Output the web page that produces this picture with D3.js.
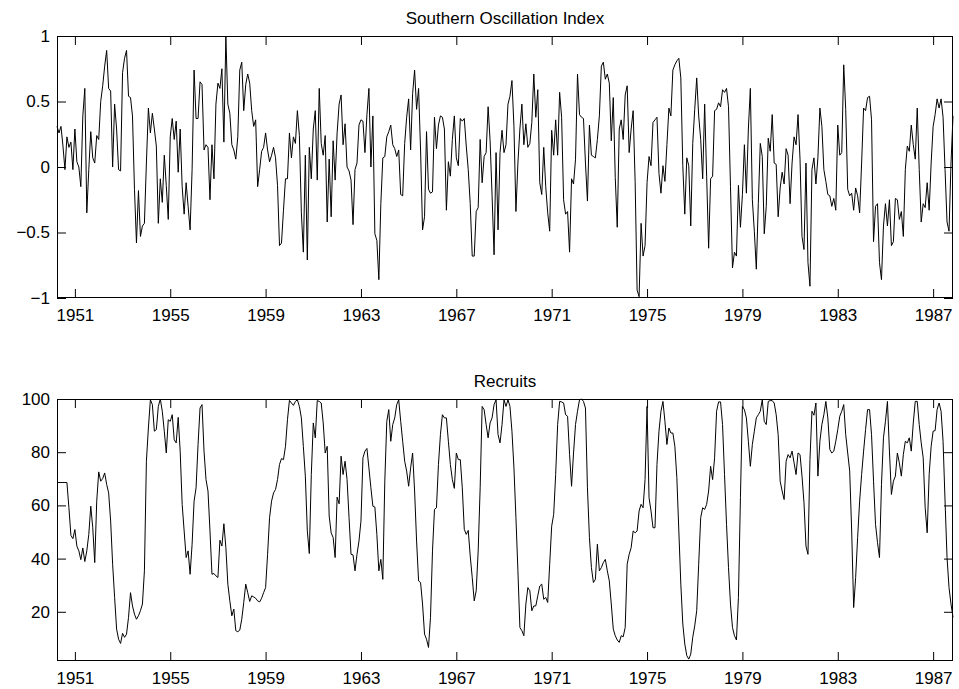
<!DOCTYPE html>
<html lang="en">
    <head>
        <meta charset="UTF-8" />
        <title>SOI and Recruits</title>
        <script src="https://d3js.org/d3.v7.min.js"></script>
        <style>
            body {
                margin: 0;
                background: #fff;
            }
            text {
                font-family: "Liberation Sans", Arial, Helvetica, sans-serif;
                font-size: 17px;
                fill: #000;
            }
            .frame {
                fill: none;
                stroke: #000;
                stroke-width: 1px;
            }
            .series {
                fill: none;
                stroke: #000;
                stroke-width: 1px;
            }
        </style>
    </head>

    <body>
        <div id="chart"></div>

        <script>
            const width = 959,
                height = 689;

            // monthly series, first value at 1950.25
            const startYear = 1950.25;
            const yearTicks = [1951, 1955, 1959, 1963, 1967, 1971, 1975, 1979, 1983, 1987];
            const soiTicks = [-1, -0.5, 0, 0.5, 1];
            const recTicks = [20, 40, 60, 80, 100];

            const soi = [
                0.31, 0.26, 0.31, 0.16, -0.02, 0.23, 0.15, 0.19, -0.02, 0.29,
                0.04, 0.0, -0.15, 0.39, 0.60, -0.35, -0.02, 0.27, 0.07, 0.03,
                0.24, 0.21, 0.50, 0.62, 0.77, 0.89, 0.60, 0.58, 0.0, 0.48,
                0.29, -0.02, -0.03, 0.72, 0.83, 0.89, 0.54, 0.53, 0.39, -0.17,
                -0.58, -0.18, -0.53, -0.45, -0.43, 0.03, 0.45, 0.26, 0.41, 0.29,
                0.16, -0.43, -0.09, -0.27, 0.09, -0.14, -0.40, 0.23, 0.37, 0.21,
                0.35, -0.04, 0.29, -0.15, -0.36, -0.12, -0.30, -0.48, -0.02, 0.74,
                0.37, 0.37, 0.65, 0.63, 0.13, 0.17,
                0.15, -0.25, 0.17, -0.09, 0.48, 0.64, 0.60, 0.75, 0.19, 1.0,
                0.48, 0.41, 0.17, 0.13, 0.06, 0.23, 0.74, 0.80, 0.43, 0.63,
                0.71, 0.64, 0.43, 0.31, 0.36, -0.15, -0.02, 0.12, 0.15, 0.26,
                0.13, 0.04, 0.09, 0.15, 0.07, -0.14, -0.60, -0.58, -0.33, -0.09,
                -0.09, 0.26, 0.07, 0.23, 0.18, 0.43, 0.24, -0.35, -0.65, 0.09,
                -0.71, 0.15, -0.09, 0.29, 0.43, -0.10, 0.60, 0.18, 0.09, 0.24,
                -0.42, 0.06, -0.38, 0.20, -0.10, 0.26, 0.48, 0.55, 0.17, 0.33,
                0.0, -0.03, -0.10, -0.44,
                -0.02, 0.03, 0.32, 0.36, 0.35, 0.11, 0.40, 0.60, 0.0, 0.39,
                -0.51, -0.56, -0.86, -0.28, 0.07, 0.08, 0.23, 0.27, 0.32, 0.17,
                0.14, 0.08, 0.13, -0.21, -0.22, 0.18, 0.38, 0.52, 0.13, 0.56,
                0.74, 0.44, 0.60, 0.13, -0.48, -0.38, 0.27, -0.17, -0.20, -0.19,
                0.38, 0.14, 0.32, 0.39, 0.38, 0.29, -0.33, 0.04, -0.07, 0.21,
                0.39, 0.07, 0.01, 0.37, 0.35, 0.37, 0.16, -0.02, -0.28, -0.68,
                -0.68, -0.34, -0.31, 0.21, -0.12, 0.08, 0.11, 0.46, 0.20, -0.22,
                -0.67, 0.11,
                -0.48, 0.11, 0.28, 0.11, 0.17, 0.48, 0.54, 0.66, 0.31, -0.34,
                0.03, 0.29, 0.48, 0.17, 0.33, 0.15, 0.18, 0.34, 0.71, 0.38,
                0.59, -0.12, -0.21, 0.15, -0.15, -0.35, -0.49, 0.28, 0.09, 0.36,
                0.09, 0.57, 0.38, -0.25, -0.36, -0.34, -0.65, -0.09, -0.13, 0.06,
                0.71, 0.40, 0.38, 0.37, 0.03, -0.26, 0.32, 0.09, 0.08, 0.07,
                0.21, 0.39, 0.77, 0.80, 0.67, 0.71, 0.64, 0.20, 0.53, -0.08,
                -0.46, 0.29, 0.36, 0.21, 0.55, 0.62, 0.11, 0.29, 0.43, -0.11,
                -0.94, -0.99, -0.43, -0.68, -0.60,
                -0.12, 0.08, 0.01, 0.34, 0.36, 0.38, -0.05, -0.20, 0.01, -0.11,
                0.17, 0.45, 0.39, 0.74, 0.78, 0.81, 0.83, 0.68, 0.01, -0.36,
                0.07, 0.01, -0.45, 0.18, 0.44, 0.68, 0.39, 0.21, -0.09, 0.48,
                -0.07, -0.62, -0.09, -0.07, 0.43, 0.44, 0.49, 0.46, 0.59, 0.57,
                0.60, 0.46, -0.15, -0.77, -0.65, -0.68, -0.14, -0.46, -0.21, 0.17,
                -0.20, 0.29, 0.60, -0.25, -0.49, -0.78, -0.28, 0.18, 0.08, -0.51,
                -0.30, 0.22, 0.12, 0.40, 0.03, 0.02, -0.38, -0.16, -0.04, -0.13,
                0.14, 0.09, -0.28, 0.03, 0.23, 0.17,
                0.40, 0.06, -0.53, -0.63, 0.03, -0.73, -0.91, -0.02, 0.07, -0.13,
                0.07, 0.45, 0.31, -0.02, -0.11, -0.21, -0.22, -0.30, -0.24, -0.33,
                0.32, 0.09, 0.11, 0.78, 0.44, -0.17, -0.22, -0.20, -0.33, -0.16,
                -0.22, -0.35, 0.03, 0.45, 0.43, 0.53, 0.54, 0.36, -0.57, -0.30,
                -0.28, -0.73, -0.86, -0.45, -0.28, -0.45, -0.25, -0.60, -0.57, -0.24,
                -0.25, -0.40, -0.34, -0.53, -0.02, 0.16, 0.12, 0.32, 0.17, 0.06,
                0.45, -0.02, -0.42, -0.28, -0.31, -0.12, -0.33, 0.03, 0.31, 0.40,
                0.52, 0.45, 0.52, 0.38, -0.02, -0.42, -0.49, 0.03, 0.39,
            ];

            const recruits = [
                68.6, 68.6, 68.6, 68.6, 68.6, 68.6, 59.1, 48.7, 47.5, 50.9,
                44.7, 42.9, 39.6, 44.0, 38.9, 42.9, 49.1, 59.7, 51.6, 38.5,
                61.6, 72.6, 69.1, 70.1, 72.2, 67.9, 64.7, 54.1, 37.9, 25.4,
                13.5, 9.7, 8.1, 11.9, 10.4, 11.6, 17.9, 27.2, 22.2, 19.1,
                17.2, 18.5, 20.4, 22.9, 35.4, 76.6, 89.1, 99.7, 97.9, 87.9,
                88.5, 97.2, 100, 95.4, 87.9, 79.7, 92.2, 91.6, 94.1, 84.7,
                83.5, 93.1, 80.4, 60.4, 50.4, 40.4, 42.9, 34.1, 45.4, 61.6,
                66.6, 82.9, 96.6, 97.9, 80.4, 69.7,
                65.4, 50.4, 34.1, 34.4, 33.5, 32.9, 46.9, 44.7, 53.1, 44.1,
                30.4, 24.1, 18.5, 21.0, 12.9, 12.5, 13.1, 17.2, 23.5, 30.4,
                27.2, 23.9, 26.0, 25.6, 25.1, 24.1, 23.7, 25.1, 27.2, 29.1,
                41.6, 55.4, 61.6, 64.7, 66.0, 69.7, 75.4, 77.6, 77.2, 82.2,
                92.2, 99.5, 98.5, 97.6, 99.1, 99.7, 97.2, 92.9, 82.2, 71.0,
                50.4, 41.9, 71.6, 91.0, 85.4, 99.4, 99.1, 98.5, 91.0, 79.7,
                82.2, 56.0, 49.7, 47.9, 40.4, 63.1, 60.6, 78.5, 71.6, 76.6,
                69.7, 55.4, 41.6, 41.4,
                35.4, 41.6, 46.6, 54.1, 77.9, 80.4, 81.4, 74.1, 66.6, 59.7,
                59.4, 49.1, 35.4, 39.7, 32.2, 69.1, 91.6, 96.0, 84.1, 90.4,
                92.9, 97.9, 99.7, 91.6, 84.1, 76.6, 72.9, 67.2, 74.1, 79.7,
                65.4, 46.6, 31.6, 31.0, 22.9, 11.6, 9.7, 6.6, 17.9, 42.9,
                58.5, 59.1, 75.4, 86.6, 94.1, 92.9, 92.9, 84.1, 75.4, 69.7,
                66.4, 79.7, 77.2, 77.2, 66.6, 51.0, 49.1, 50.6, 41.0, 32.9,
                24.1, 27.9, 42.9, 66.6, 97.2, 96.0, 90.4, 85.4, 91.0, 92.9,
                97.9, 99.7,
                86.6, 83.5, 90.4, 99.7, 97.2, 99.7, 97.2, 87.9, 74.1, 55.4,
                35.4, 14.1, 12.9, 11.0, 22.9, 29.1, 27.9, 20.4, 22.2, 22.2,
                26.0, 29.7, 30.4, 24.7, 25.4, 23.5, 37.9, 52.2, 56.6, 71.6,
                90.4, 99.1, 98.9, 98.5, 94.1, 93.5, 79.1, 67.2, 79.7, 90.4,
                95.4, 99.7, 100, 99.1, 96.6, 66.6, 47.9, 36.6, 31.0, 32.2,
                45.4, 35.4, 36.6, 38.5, 39.7, 35.4, 31.6, 22.9, 13.5, 11.0,
                9.4, 8.5, 11.0, 10.6, 14.1, 37.9, 41.6, 44.1, 50.4, 49.7,
                50.4, 57.9, 60.4, 59.1, 69.7, 97.2,
                62.9, 57.9, 51.6, 51.6, 75.4, 87.9, 95.4, 99.1, 91.6, 82.9,
                89.1, 87.2, 87.2, 82.2, 70.4, 50.4, 30.4, 15.4, 7.9, 3.5,
                2.2, 4.1, 10.4, 14.7, 20.4, 37.9, 55.4, 59.1, 58.5, 60.4,
                65.4, 74.7, 69.7, 77.9, 95.4, 98.9, 98.9, 90.4, 71.6, 52.9,
                36.6, 22.9, 14.1, 11.0, 9.4, 25.4, 62.9, 97.2, 96.0, 92.9,
                84.1, 74.7, 82.9, 87.9, 92.9, 94.1, 95.4, 99.7, 91.6, 90.4,
                99.1, 99.4, 99.4, 98.5, 94.1, 86.6, 69.1, 65.4, 62.2, 76.6,
                79.1, 77.9, 80.4, 76.0, 71.6,
                79.7, 79.1, 71.0, 61.0, 44.7, 41.6, 77.2, 95.4, 93.9, 98.5,
                71.0, 84.1, 90.4, 94.1, 99.1, 92.9, 81.0, 79.7, 80.4, 84.1,
                88.5, 93.5, 95.4, 97.9, 86.6, 79.7, 72.9, 50.4, 21.6, 32.9,
                47.9, 61.6, 71.6, 80.4, 88.5, 96.0, 96.0, 86.6, 69.1, 52.9,
                46.0, 40.4, 67.9, 85.4, 91.6, 99.1, 80.4, 64.1, 69.1, 71.0,
                79.7, 76.0, 71.0, 79.1, 84.1, 83.5, 85.4, 80.4, 91.0, 99.1,
                99.1, 90.4, 83.5, 77.9, 59.1, 49.7, 71.6, 82.2, 87.9, 88.1,
                96.0, 98.5, 95.4, 84.1, 61.6, 40.4, 29.1, 22.9, 17.9,
            ];

            const left = 57,
                right = 953;
            const fontSize = 17;

            const svg = d3
                .select("#chart")
                .append("svg")
                .attr("width", width)
                .attr("height", height);

            const x = d3
                .scaleLinear()
                .domain([startYear, startYear + (soi.length - 1) / 12])
                .range([left, right]);

            function panel(values, top, bottom, yDomain, ticks, title) {
                const y = d3.scaleLinear().domain(yDomain).range([bottom, top]);
                const g = svg.append("g");

                const line = d3
                    .line()
                    .x((d, i) => x(startYear + i / 12))
                    .y((d) => y(d));

                g.append("path")
                    .datum(values)
                    .attr("class", "series")
                    .attr("d", line);

                // MATLAB style ticks: inward, on all four sides
                const tk = 9;
                const axes = [
                    [d3.axisBottom(x).tickValues(yearTicks).tickFormat(d3.format("d")), 0, bottom, 11],
                    [d3.axisTop(x).tickValues(yearTicks).tickFormat(""), 0, top, 0],
                    [d3.axisLeft(y).tickValues(ticks).tickFormat(d3.format("")), left, 0, 7],
                    [d3.axisRight(y).tickValues(ticks).tickFormat(""), right, 0, 0],
                ];
                axes.forEach(([ax, tx, ty, pad]) => {
                    const a = g
                        .append("g")
                        .attr("transform", `translate(${tx},${ty})`)
                        .call(ax.tickSizeInner(-tk).tickSizeOuter(0).tickPadding(pad));
                    a.select(".domain").remove();
                    a.selectAll("line").attr("stroke", "#000");
                    a.selectAll("text")
                        .attr("font-size", fontSize)
                        .attr("font-family", "'Liberation Sans', Arial, sans-serif");
                });

                g.append("rect")
                    .attr("class", "frame")
                    .attr("x", left + 0.5)
                    .attr("y", top + 0.5)
                    .attr("width", right - left - 1)
                    .attr("height", bottom - top - 1);

                g.append("text")
                    .attr("x", (left + right) / 2)
                    .attr("y", top - 12)
                    .attr("text-anchor", "middle")
                    .attr("font-size", fontSize)
                    .text(title);
            }

            panel(soi, 36, 298, [-1, 1], soiTicks, "Southern Oscillation Index");
            panel(recruits, 399, 661, [1.5, 100], recTicks, "Recruits");
        </script>
    </body>
</html>
